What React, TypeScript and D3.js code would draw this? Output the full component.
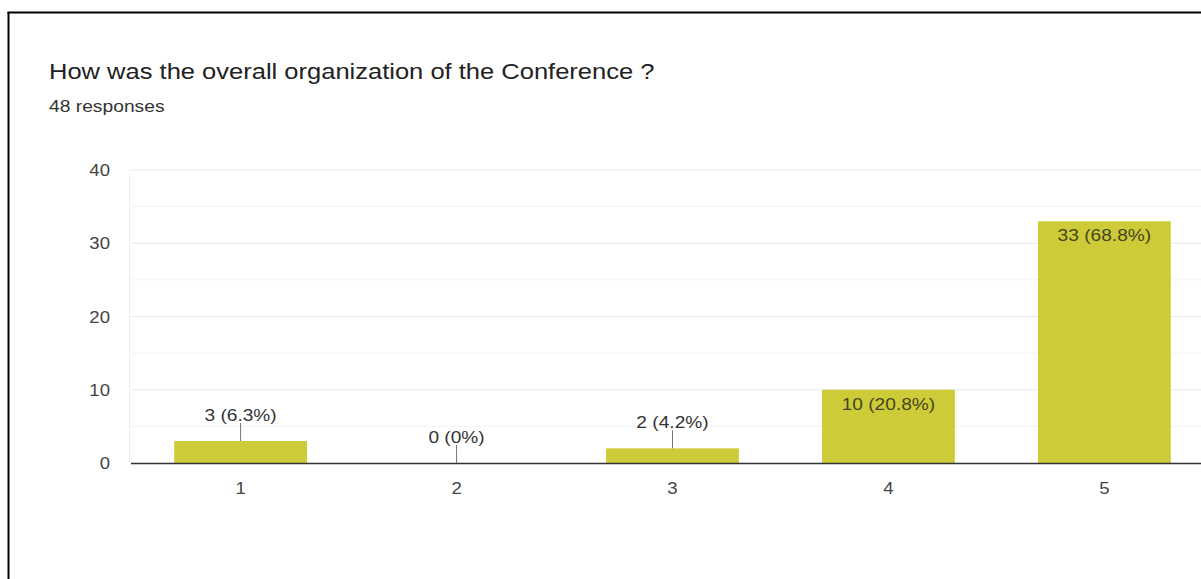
import React from "react";
import * as d3 from "d3";

const categories = ["1", "2", "3", "4", "5"];
const counts = [3, 0, 2, 10, 33];
const percentLabels = ["6.3%", "0%", "4.2%", "20.8%", "68.8%"];
const yTicks = [0, 10, 20, 30, 40];
const minorTicks = [5, 15, 25, 35];
const title = "How was the overall organization of the Conference ?";
const subtitle = "48 responses";

const W = 1201;
const H = 579;
const FONT = "'Liberation Sans', Arial, sans-serif";
const SX = 1.16;

function T(props: {
  x: number;
  y: number;
  size: number;
  fill: string;
  anchor?: "start" | "middle" | "end";
  children: React.ReactNode;
}) {
  return (
    <text
      transform={`translate(${props.x},${props.y}) scale(${SX},1)`}
      fontSize={props.size}
      fill={props.fill}
      textAnchor={props.anchor || "start"}
    >
      {props.children}
    </text>
  );
}

export default function App() {
  const plotLeft = 131;
  const y = d3.scaleLinear().domain([0, 40]).range([463, 170]);
  const x = d3
    .scaleBand<string>()
    .domain(categories)
    .range([plotLeft, plotLeft + 5 * 216.6])
    .paddingInner(0.385)
    .paddingOuter(0.2);
  const bw = x.bandwidth();

  return (
    <svg
      width={W}
      height={H}
      style={{ position: "absolute", left: 0, top: 0, background: "#fff" }}
      fontFamily={FONT}
    >
      <rect x={0} y={0} width={W} height={H} fill="#fff" />
      {/* frame */}
      <line x1={8.5} y1={12} x2={8.5} y2={H} stroke="#000" strokeWidth={2} />
      <line x1={7.5} y1={12.5} x2={W} y2={12.5} stroke="#000" strokeWidth={2} />

      <T x={49} y={79} size={22} fill="#222">{title}</T>
      <T x={49} y={112} size={16.6} fill="#333">{subtitle}</T>

      {/* gridlines */}
      {minorTicks.map((t) => (
        <line key={"m" + t} x1={plotLeft} x2={W} y1={y(t)} y2={y(t)} stroke="#f3f3f3" strokeWidth={1} />
      ))}
      {yTicks.filter((t) => t > 0).map((t) => (
        <line key={"g" + t} x1={plotLeft} x2={W} y1={y(t)} y2={y(t)} stroke="#e8e8e8" strokeWidth={1} />
      ))}
      <line x1={plotLeft - 1.5} x2={plotLeft - 1.5} y1={y(40)} y2={y(0)} stroke="#eeeeee" strokeWidth={1} />

      {yTicks.map((t) => (
        <T key={"yt" + t} x={110} y={y(t) + 6} size={16} fill="#444" anchor="end">
          {t}
        </T>
      ))}

      {/* bars */}
      {categories.map((c, i) => {
        const v = counts[i];
        const x0 = x(c)!;
        const cx = x0 + bw / 2;
        const top = y(v);
        const label = `${v} (${percentLabels[i]})`;
        const inside = y(0) - top > 40;
        return (
          <g key={c}>
            {v > 0 && <rect x={x0} y={top} width={bw} height={y(0) - top} fill="#cdcc38" />}
            {inside ? (
              <T x={cx} y={top + 20} size={16.5} fill="#45451f" anchor="middle">
                {label}
              </T>
            ) : (
              <g>
                <line x1={cx} x2={cx} y1={top} y2={top - 18} stroke="#777" strokeWidth={1} />
                <T x={cx} y={top - 20} size={16.5} fill="#333" anchor="middle">
                  {label}
                </T>
              </g>
            )}
            <T x={cx} y={y(0) + 31} size={16} fill="#444" anchor="middle">
              {c}
            </T>
          </g>
        );
      })}

      {/* baseline */}
      <line x1={plotLeft} x2={W} y1={y(0) + 0.5} y2={y(0) + 0.5} stroke="#333" strokeWidth={1.5} />
    </svg>
  );
}
